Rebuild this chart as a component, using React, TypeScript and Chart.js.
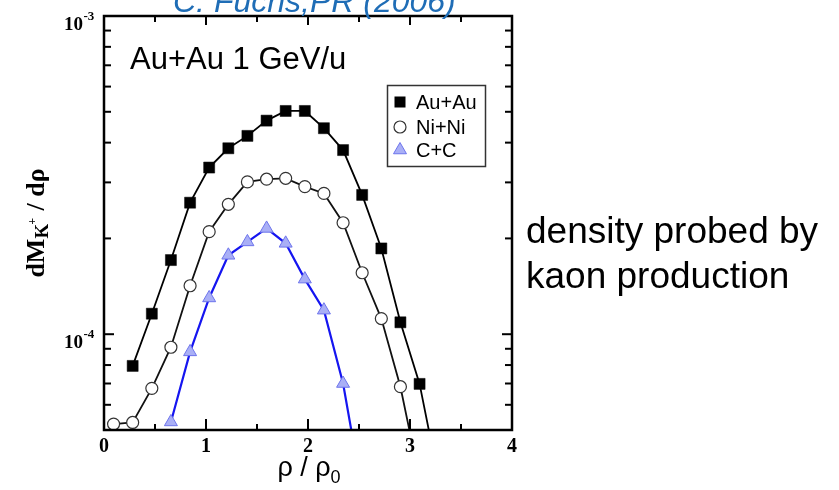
import React, { useEffect, useRef } from 'react';
import { Chart, registerables } from 'chart.js';

Chart.register(...registerables);

// ---- data ----
const rho = [0.094, 0.281, 0.469, 0.656, 0.844, 1.031, 1.219, 1.406, 1.594, 1.781, 1.969, 2.156, 2.344, 2.531, 2.719, 2.906, 3.094, 3.281];
const auAu = [null, 7.95e-5, 1.16e-4, 1.71e-4, 2.59e-4, 3.34e-4, 3.84e-4, 4.2e-4, 4.69e-4, 5.03e-4, 5.03e-4, 4.44e-4, 3.79e-4, 2.74e-4, 1.86e-4, 1.09e-4, 6.98e-5, 3.5e-5];
const niNi = [5.22e-5, 5.28e-5, 6.76e-5, 9.1e-5, 1.42e-4, 2.1e-4, 2.56e-4, 3.01e-4, 3.07e-4, 3.09e-4, 2.91e-4, 2.77e-4, 2.24e-4, 1.56e-4, 1.12e-4, 6.84e-5, 3.5e-5, null];
const cC = [null, null, null, 5.3e-5, 8.8e-5, 1.3e-4, 1.77e-4, 1.95e-4, 2.15e-4, 1.93e-4, 1.49e-4, 1.19e-4, 7.0e-5, 3.2e-5, null, null, null, null];

const seriesLabels = ['Au+Au', 'Ni+Ni', 'C+C'];
const xMajorTicks = [0, 1, 2, 3, 4];
const xMinorTicks = [0.5, 1.5, 2.5, 3.5];
const xTickLabels = ['0', '1', '2', '3', '4'];
const yMajorTicks = [1e-3, 1e-4];
const yMinorTicks = [9e-4, 8e-4, 7e-4, 6e-4, 5e-4, 4e-4, 3e-4, 2e-4, 9e-5, 8e-5, 7e-5, 6e-5];
const yTickExponents = ['-3', '-4'];

const titleText = 'C. Fuchs,PR (2006)';
const insetText = 'Au+Au 1 GeV/u';
const sideLines = ['density probed by', 'kaon production'];

const SERIF = "'Liberation Serif', 'Times New Roman', serif";
const SANS = "'Liberation Sans', Arial, sans-serif";

const toPoints = (vals: (number | null)[]) =>
  rho.map((x, i) => ({ x, y: vals[i] })).filter((p) => p.y !== null) as { x: number; y: number }[];

const COLORS = {
  au: '#000000',
  niBorder: '#333333',
  ccLine: '#1515f0',
  ccFill: '#a9aff6',
  ccBorder: '#6d74ec',
  title: '#1f6db6',
};

function drawMarker(ctx: CanvasRenderingContext2D, kind: number, x: number, y: number) {
  ctx.save();
  if (kind === 0) {
    ctx.fillStyle = '#000';
    ctx.fillRect(x - 5.5, y - 5.5, 11, 11);
  } else if (kind === 1) {
    ctx.beginPath();
    ctx.arc(x, y, 6, 0, Math.PI * 2);
    ctx.fillStyle = '#fff';
    ctx.fill();
    ctx.lineWidth = 1.2;
    ctx.strokeStyle = COLORS.niBorder;
    ctx.stroke();
  } else {
    const r = 7.5;
    ctx.beginPath();
    ctx.moveTo(x, y - r);
    ctx.lineTo(x + r * 0.866, y + r / 2);
    ctx.lineTo(x - r * 0.866, y + r / 2);
    ctx.closePath();
    ctx.fillStyle = COLORS.ccFill;
    ctx.fill();
    ctx.lineWidth = 1;
    ctx.strokeStyle = COLORS.ccBorder;
    ctx.stroke();
  }
  ctx.restore();
}

const decorPlugin = {
  id: 'decor',
  afterDatasetsDraw(chart: any) {
    const { ctx, chartArea: a, scales } = chart;
    const xs = scales.x;
    const ys = scales.y;
    ctx.save();
    ctx.strokeStyle = '#000';
    ctx.lineWidth = 2;
    const seg = (x1: number, y1: number, x2: number, y2: number) => {
      ctx.beginPath();
      ctx.moveTo(x1, y1);
      ctx.lineTo(x2, y2);
      ctx.stroke();
    };
    xMajorTicks.forEach((v) => {
      const p = xs.getPixelForValue(v);
      seg(p, a.bottom, p, a.bottom - 11);
      seg(p, a.top, p, a.top + 9);
    });
    xMinorTicks.forEach((v) => {
      const p = xs.getPixelForValue(v);
      seg(p, a.bottom, p, a.bottom - 6);
      seg(p, a.top, p, a.top + 6);
    });
    yMajorTicks.forEach((v) => {
      const p = ys.getPixelForValue(v);
      seg(a.left, p, a.left + 10, p);
      seg(a.right, p, a.right - 10, p);
    });
    yMinorTicks.forEach((v) => {
      const p = ys.getPixelForValue(v);
      seg(a.left, p, a.left + 7, p);
      seg(a.right, p, a.right - 7, p);
    });
    ctx.lineWidth = 2.5;
    ctx.strokeRect(a.left, a.top, a.right - a.left, a.bottom - a.top);
    ctx.restore();
  },
  afterDraw(chart: any) {
    const { ctx, chartArea: a, scales } = chart;
    const xs = scales.x;
    const ys = scales.y;
    ctx.save();
    ctx.fillStyle = '#000';

    // x tick labels
    ctx.font = `bold 20px ${SERIF}`;
    ctx.textAlign = 'center';
    ctx.textBaseline = 'alphabetic';
    xMajorTicks.forEach((v, i) => {
      ctx.fillText(xTickLabels[i], xs.getPixelForValue(v), a.bottom + 22);
    });

    // y tick labels 10^-n
    yMajorTicks.forEach((v, i) => {
      const p = ys.getPixelForValue(v);
      const xr = a.left - 21;
      ctx.font = `bold 19px ${SERIF}`;
      ctx.textAlign = 'right';
      ctx.fillText('10', xr, p + 14);
      ctx.font = `bold 13px ${SERIF}`;
      ctx.textAlign = 'left';
      ctx.fillText(yTickExponents[i], xr + 0.5, p + 4);
    });

    // x axis title: ρ / ρ0
    {
      ctx.font = `27px ${SANS}`;
      const main = 'ρ / ρ';
      const wMain = ctx.measureText(main).width;
      ctx.font = `18px ${SANS}`;
      const wSub = ctx.measureText('0').width;
      const total = wMain + wSub;
      const cx = (a.left + a.right) / 2 + 1;
      const x0 = cx - total / 2;
      ctx.textAlign = 'left';
      ctx.font = `27px ${SANS}`;
      ctx.fillText(main, x0, a.bottom + 46);
      ctx.font = `18px ${SANS}`;
      ctx.fillText('0', x0 + wMain, a.bottom + 53);
    }

    // y axis title: dM_{K+} / dρ (rotated)
    {
      ctx.save();
      ctx.translate(44, 223);
      ctx.rotate(-Math.PI / 2);
      const fMain = `bold 26px ${SERIF}`;
      const fSub = `bold 19px ${SERIF}`;
      const fSup = `bold 12px ${SERIF}`;
      ctx.font = fMain;
      const w1 = ctx.measureText('dM').width;
      const w3 = ctx.measureText(' / dρ').width;
      ctx.font = fSub;
      const w2 = ctx.measureText('K').width;
      ctx.font = fSup;
      const wSup = ctx.measureText('+').width;
      const total = w1 + w2 + wSup + w3;
      let x = -total / 2;
      ctx.textAlign = 'left';
      ctx.font = fMain;
      ctx.fillText('dM', x, 0);
      x += w1;
      ctx.font = fSub;
      ctx.fillText('K', x, 4);
      x += w2;
      ctx.font = fSup;
      ctx.fillText('+', x - 1, -8);
      x += wSup;
      ctx.font = fMain;
      ctx.fillText(' / dρ', x, 0);
      ctx.restore();
    }

    // inset text
    ctx.font = `31px ${SANS}`;
    ctx.textAlign = 'left';
    ctx.fillText(insetText, 130, 69);

    // title (cut at the top edge)
    ctx.font = `italic 32px ${SANS}`;
    ctx.fillStyle = COLORS.title;
    ctx.fillText(titleText, 173, 12);

    // side text
    ctx.fillStyle = '#000';
    ctx.font = `37px ${SANS}`;
    ctx.fillText(sideLines[0], 526, 243);
    ctx.fillText(sideLines[1], 526, 288);

    // legend
    ctx.lineWidth = 1.5;
    ctx.strokeStyle = '#333';
    ctx.strokeRect(387.5, 85.5, 98, 81);
    ctx.font = `20px ${SANS}`;
    const rowY = [102, 127, 150];
    seriesLabels.forEach((lab, i) => {
      drawMarker(ctx, i, 400, rowY[i]);
      ctx.fillStyle = '#000';
      ctx.fillText(lab, 416, rowY[i] + 7);
    });
    ctx.restore();
  },
};

export default function App() {
  const ref = useRef<HTMLCanvasElement | null>(null);
  useEffect(() => {
    if (!ref.current) return;
    const W = 839;
    const H = 490;
    const clip = { left: 12, top: 12, right: 12, bottom: 1 } as any;
    const chart = new Chart(ref.current, {
      type: 'line',
      data: {
        datasets: [
          {
            label: seriesLabels[0],
            data: toPoints(auAu),
            borderColor: COLORS.au,
            borderWidth: 1.8,
            pointStyle: 'rect',
            pointRadius: 7.8,
            pointBackgroundColor: '#000',
            pointBorderColor: '#000',
            pointBorderWidth: 0.5,
            clip,
          },
          {
            label: seriesLabels[1],
            data: toPoints(niNi),
            borderColor: '#111',
            borderWidth: 1.8,
            pointStyle: 'circle',
            pointRadius: 6,
            pointBackgroundColor: '#fff',
            pointBorderColor: COLORS.niBorder,
            pointBorderWidth: 1.2,
            clip,
          },
          {
            label: seriesLabels[2],
            data: toPoints(cC),
            borderColor: COLORS.ccLine,
            borderWidth: 2.2,
            pointStyle: 'triangle',
            pointRadius: 7.5,
            pointBackgroundColor: COLORS.ccFill,
            pointBorderColor: COLORS.ccBorder,
            pointBorderWidth: 1,
            clip,
          },
        ],
      },
      options: {
        animation: false,
        responsive: false,
        maintainAspectRatio: false,
        devicePixelRatio: 1,
        layout: { padding: { left: 104, top: 16, right: W - 512, bottom: H - 430 } },
        plugins: { legend: { display: false }, tooltip: { enabled: false } },
        elements: { line: { tension: 0 } },
        scales: {
          x: { type: 'linear', min: 0, max: 4, display: false },
          y: { type: 'logarithmic', min: 5e-5, max: 1e-3, display: false },
        },
      },
      plugins: [decorPlugin],
    } as any);
    return () => chart.destroy();
  }, []);
  return (
    <div style={{ position: 'absolute', left: 0, top: 0, width: 839, height: 490, background: '#fff' }}>
      <canvas ref={ref} width={839} height={490} style={{ display: 'block' }} />
    </div>
  );
}
